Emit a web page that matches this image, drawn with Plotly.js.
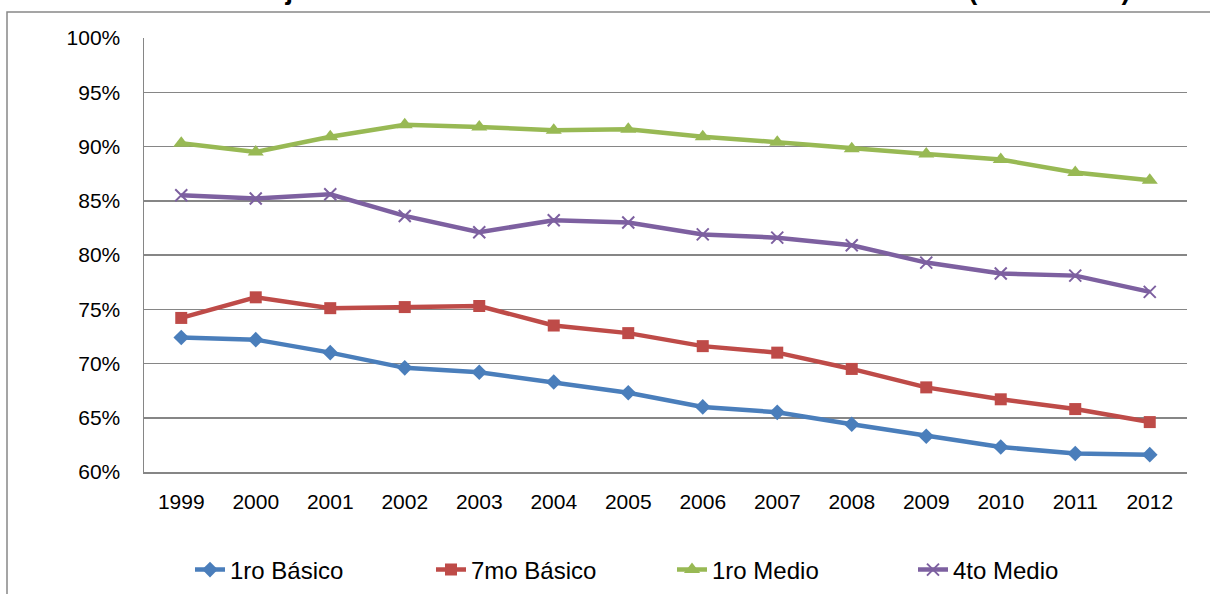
<!DOCTYPE html>
<html>
<head>
<meta charset="utf-8">
<script src="https://cdn.plot.ly/plotly-3.0.1.min.js"></script>
<style>
  html, body { margin: 0; padding: 0; background: #fff; }
  #chart { width: 1210px; height: 594px; }
</style>
</head>
<body>
<div id="chart"></div>
<script>
const years = ["1999","2000","2001","2002","2003","2004","2005","2006","2007","2008","2009","2010","2011","2012"];
const basico1 = [72.4, 72.2, 71.0, 69.6, 69.2, 68.3, 67.3, 66.0, 65.5, 64.4, 63.3, 62.3, 61.7, 61.6];
const basico7 = [74.2, 76.1, 75.1, 75.2, 75.3, 73.5, 72.8, 71.6, 71.0, 69.5, 67.8, 66.7, 65.8, 64.6];
const medio1  = [90.3, 89.5, 90.9, 92.0, 91.8, 91.5, 91.6, 90.9, 90.4, 89.8, 89.3, 88.8, 87.6, 86.9];
const medio4  = [85.5, 85.2, 85.6, 83.6, 82.1, 83.2, 83.0, 81.9, 81.6, 80.9, 79.3, 78.3, 78.1, 76.6];
const seriesNames = ["1ro Básico", "7mo Básico", "1ro Medio", "4to Medio"];
const titleText = "Porcentaje de matrícula en establecimientos subvencionados (1999 - 2012)";

const FONT = "Liberation Sans, Arial, sans-serif";

function trace(name, y, color, symbol, msize, extraMarker) {
  return {
    type: "scatter", mode: "lines+markers", name: name, x: years, y: y,
    line: { color: color, width: 4.5 },
    marker: Object.assign({ symbol: symbol, size: msize, color: color }, extraMarker || {}),
    hoverinfo: "x+y+name"
  };
}

const data = [
  trace(seriesNames[0], basico1, "#4A7EBB", "diamond", 12),
  trace(seriesNames[1], basico7, "#BE4B48", "square", 12),
  trace(seriesNames[2], medio1, "#98B954", "triangle-up", 14),
  trace(seriesNames[3], medio4, "#7D60A0", "x-thin", 12, { line: { color: "#7D60A0", width: 2 } })
];

const L = 144, R = 1187, T = 38, B = 472, W = 1210, H = 594;
const px2x = p => (p - L) / (R - L);
const py2y = p => (B - p) / (B - T);

const layout = {
  width: W, height: H,
  margin: { l: L, r: W - R, t: T, b: H - B, pad: 0, autoexpand: false },
  paper_bgcolor: "#fff", plot_bgcolor: "#fff",
  font: { family: FONT, color: "#000", size: 21 },
  showlegend: true,
  legend: {
    orientation: "h", x: px2x(190), xanchor: "left", y: py2y(570), yanchor: "middle",
    font: { family: FONT, size: 24, color: "#000" },
    bgcolor: "rgba(0,0,0,0)", entrywidth: 196, entrywidthmode: "pixels",
    traceorder: "normal"
  },
  xaxis: {
    type: "category", range: [-0.5, 13.5], fixedrange: true,
    showgrid: false, zeroline: false,
    showline: true, linecolor: "#868686", linewidth: 1.5,
    ticks: "", ticklabelstandoff: 10,
    tickfont: { family: FONT, size: 21, color: "#000" }
  },
  yaxis: {
    range: [60, 100], dtick: 5, tick0: 60, ticksuffix: "%", fixedrange: true,
    showgrid: true, gridcolor: "#868686", gridwidth: 1.5,
    zeroline: false, showline: true, linecolor: "#868686", linewidth: 1.5,
    ticks: "", ticklabelstandoff: 18,
    tickfont: { family: FONT, size: 21, color: "#000" }
  },
  shapes: [
    { type: "rect", xref: "paper", yref: "paper",
      x0: px2x(7), x1: px2x(1300), y0: py2y(700), y1: py2y(12),
      line: { color: "#888888", width: 1.5 }, fillcolor: "rgba(0,0,0,0)", layer: "above" }
  ],
  annotations: [
    { xref: "paper", yref: "paper", x: px2x(1132), xanchor: "right",
      y: py2y(7), yanchor: "bottom", showarrow: false,
      text: "<b>" + titleText + "</b>",
      font: { family: FONT, size: 27, color: "#000" } }
  ]
};

Plotly.newPlot("chart", data, layout, { displayModeBar: false, staticPlot: true });
</script>
</body>
</html>
